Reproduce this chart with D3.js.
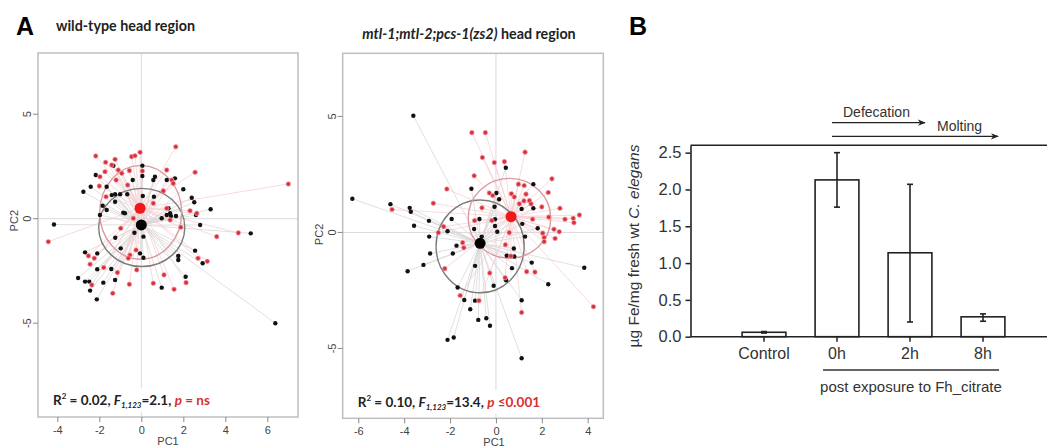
<!DOCTYPE html>
<html>
<head>
<meta charset="utf-8">
<script src="https://cdn.jsdelivr.net/npm/d3@7"></script>
<style>
body { margin: 0; background: #fff; }
svg { display: block; }
</style>
</head>
<body>
<svg width="1047" height="448"></svg>
<script>
// Panel A - PCA scores (PC1, PC2)
const wtRed = [[-2.17,3.0],[-1.70,2.70],[-1.41,2.57],[-1.25,2.84],[-0.46,2.97],[-0.30,3.01],[-0.06,3.18],[1.64,3.44],[2.56,2.22],[7.0,1.66],
  [-1.97,2.01],[-1.73,2.25],[-1.20,1.85],[-1.10,2.33],[-0.93,2.17],[-0.57,2.30],[0.05,2.28],[-0.65,1.61],[-2.0,1.56],[1.21,2.33],
  [1.45,1.85],[1.52,1.69],[1.05,1.33],[-1.68,1.05],[2.32,0.38],[2.64,0.26],[0.57,0.74],[-4.43,-1.10],[-2.52,-1.78],[-2.44,-2.18],
  [-1.14,-2.58],[-2.36,-3.17],[-1.36,-3.57],[-0.57,-3.14],[-0.22,-2.45],[0.57,-3.09],[1.08,-2.69],[1.56,-3.38],[2.13,-3.06],[2.70,-1.89],
  [3.14,-2.04],[3.59,-0.86],[4.62,-0.68],[-0.98,-0.46],[-0.38,0.02],[-0.25,-1.50],[-0.54,-1.74],[1.37,-0.06],[1.88,-0.41],[1.21,0.50],
  [-2.24,-1.89],[-1.79,-2.34],[-0.62,-1.89]];
const wtBlack = [[-1.33,2.54],[-2.17,2.09],[-0.41,1.85],[0.05,2.54],[0.05,2.04],[-2.76,1.29],[-2.41,1.53],[-1.65,1.53],[0.57,1.85],[0.65,2.01],
  [1.21,1.85],[1.60,1.93],[2.0,1.41],[0.60,1.05],[-1.41,1.13],[-1.25,1.17],[-1.01,1.17],[-0.67,1.17],[0.07,1.09],[-1.25,0.81],
  [-1.84,0.62],[2.40,1.0],[2.52,0.79],[3.30,0.45],[1.29,0.50],[1.37,0.26],[-0.86,0.29],[-1.97,0.18],[-4.16,-0.28],[-2.68,-1.61],
  [-2.10,-1.66],[-2.10,-2.42],[-1.43,-2.41],[-3.01,-2.84],[-2.68,-3.01],[-2.48,-3.01],[-2.44,-3.44],[-1.81,-3.06],[-1.25,-2.93],[-2.12,-3.86],
  [0.97,-3.30],[2.11,-2.78],[1.76,-1.78],[1.76,-1.98],[2.56,-1.53],[2.92,-2.13],[2.80,-0.30],[5.21,-0.70],[6.38,-5.0],[0.10,-0.86],
  [-1.24,-0.91],[-0.78,0.26],[-0.33,-0.67],[0.10,-1.87],[-0.06,-1.66],[-0.98,-1.42],[0.97,0.02],[1.21,0.18],[1.41,0.13],[1.65,0.13],
  [2.60,0.18],[-1.65,0.42]];
const mutRed = [[-1.05,4.30],[-0.46,4.30],[1.27,3.46],[-0.59,3.23],[-0.07,3.01],[0.37,3.05],[-0.95,2.44],[2.44,2.31],[-2.14,1.87],[0.98,2.08],
  [1.23,2.02],[-2.73,1.26],[-4.53,0.99],[-0.29,1.70],[-0.14,1.59],[0.67,1.67],[0.80,1.53],[1.31,1.65],[1.22,1.36],[1.46,1.37],
  [1.53,1.23],[2.28,1.72],[2.79,1.04],[-0.61,1.06],[1.02,1.23],[2.0,1.10],[-0.93,0.51],[-0.18,0.51],[1.60,0.57],[2.30,0.66],
  [3.01,0.57],[3.37,0.61],[3.64,0.75],[3.40,0.42],[-2.28,0.25],[-2.51,-0.01],[2.04,-0.03],[2.10,-0.22],[2.53,0.14],[2.76,0.03],
  [0.58,-0.01],[2.58,-0.26],[-1.45,-0.44],[-1.40,-0.66],[0.41,-0.53],[2.10,-0.40],[0.65,-1.02],[-2.23,-1.56],[-0.27,-1.75],[0.40,-1.95],
  [1.34,-1.69],[1.70,-1.71],[-1.56,-2.72],[-0.74,-2.94],[1.12,-3.45],[4.25,-3.20]];
const mutBlack = [[-3.60,5.03],[0.43,2.79],[-1.07,1.88],[1.63,2.08],[-6.26,1.45],[-4.60,1.22],[-3.76,1.06],[-3.71,0.89],[0.02,1.70],[0.14,1.43],
  [1.63,1.04],[1.12,1.01],[-0.06,1.11],[-2.92,0.50],[-3.57,0.29],[-1.93,0.58],[-2.11,0.05],[-0.72,0.58],[-0.04,0.57],[1.15,0.37],
  [1.82,0.18],[-0.95,0.15],[-0.04,0.28],[0.06,0.03],[1.27,-0.18],[-0.62,-0.18],[-2.91,-0.18],[-1.72,-0.57],[0.78,-0.69],[-2.87,-0.91],
  [-1.88,-0.91],[0.47,-1.0],[0.80,-1.04],[-3.16,-1.40],[-3.85,-1.67],[-0.91,-1.44],[1.56,-1.30],[3.85,-1.52],[0.70,-1.54],[0.44,-2.06],
  [2.28,-2.23],[-0.10,-2.30],[-1.67,-2.37],[-1.38,-2.91],[-0.91,-2.94],[1.12,-2.92],[-1.12,-3.31],[-0.77,-3.77],[-0.42,-3.70],[-0.26,-4.02],
  [-1.84,-4.53],[-2.11,-4.63],[1.12,-5.42]];
// group centroids and ellipses [cx, cy, rx, ry]
const wtCentroids = {red: [-0.06, 0.50], black: [0.0, -0.30]};
const wtEllipses = {red: [-0.03, 0.30, 1.95, 2.24], black: [0.02, -0.42, 2.05, 1.87]};
const mutCentroids = {red: [0.66, 0.68], black: [-0.69, -0.47]};
const mutEllipses = {red: [0.59, 0.61, 1.80, 1.72], black: [-0.69, -0.60, 1.92, 2.0]};
const wtXTicks = [-4, -2, 0, 2, 4, 6];
const mutXTicks = [-6, -4, -2, 0, 2, 4];
const pcaYTicks = [-5, 0, 5];

// Panel B - iron content
const bCats = ['Control', '0h', '2h', '8h'];
const bMeans = [0.06, 2.13, 1.14, 0.27];
const bErrLo = [0.05, 1.76, 0.20, 0.21];
const bErrHi = [0.07, 2.50, 2.07, 0.31];
const bTicks = [0, 0.5, 1.0, 1.5, 2.0, 2.5];

const svg = d3.select('svg');
const fontA = 'Lato, "Open Sans", sans-serif';
const fontB = '"Liberation Sans", Arial, sans-serif';

svg.append('text').text('A').attr('x', 16).attr('y', 35)
  .attr('font-family', fontB).attr('font-weight', 'bold').attr('font-size', 25);
svg.append('text').text('B').attr('x', 629).attr('y', 35)
  .attr('font-family', fontB).attr('font-weight', 'bold').attr('font-size', 25);

const panels = [
  {red: wtRed, black: wtBlack, cen: wtCentroids, ell: wtEllipses, xTicks: wtXTicks,
   xDom: [-4.92, 7.46], xRange: [38, 298], yDom: [-9.49, 7.93], yRange: [417, 53],
   titleY: 31, r2: '0.02', f: '2.1', p: 'p = ns', statY: 405, pc1X: 168},
  {red: mutRed, black: mutBlack, cen: mutCentroids, ell: mutEllipses, xTicks: mutXTicks,
   xDom: [-6.68, 4.68], xRange: [342.7, 603.3], yDom: [-8.01, 7.72], yRange: [418.3, 53.3],
   titleY: 39, r2: '0.10', f: '13.4', p: 'p \u22640.001', statY: 407, pc1X: 494}
];

panels.forEach((p, i) => {
  const x = d3.scaleLinear().domain(p.xDom).range(p.xRange);
  const y = d3.scaleLinear().domain(p.yDom).range(p.yRange);
  const g = svg.append('g');
  const x0 = p.xRange[0], x1 = p.xRange[1], yT = p.yRange[1], yB = p.yRange[0];

  // title
  const t = g.append('text').attr('font-family', fontA).attr('font-weight', 'bold')
    .attr('font-size', 14.3).attr('fill', '#222');
  if (i === 0) {
    t.attr('x', 56).attr('y', p.titleY).text('wild-type head region');
  } else {
    t.attr('x', 469).attr('y', p.titleY).attr('text-anchor', 'middle');
    t.append('tspan').attr('font-style', 'italic').text('mtl-1;mtl-2;pcs-1(zs2)');
    t.append('tspan').text(' head region');
  }

  // crosshair through origin
  g.append('line').attr('x1', x0).attr('x2', x1).attr('y1', y(0)).attr('y2', y(0))
    .attr('stroke', '#dadada').attr('stroke-width', 1);
  g.append('line').attr('x1', x(0)).attr('x2', x(0)).attr('y1', yT).attr('y2', yB)
    .attr('stroke', '#dadada').attr('stroke-width', 1);

  // spider lines to group centroid
  [['black', '#d6d6d6'], ['red', '#f5cfd2']].forEach(([grp, col]) => {
    const c = p.cen[grp];
    g.append('g').selectAll('line').data(p[grp]).join('line')
      .attr('x1', d => x(d[0])).attr('y1', d => y(d[1]))
      .attr('x2', x(c[0])).attr('y2', y(c[1]))
      .attr('stroke', col).attr('stroke-width', 0.75);
  });

  // ellipses
  [['black', '#7c7c7c'], ['red', '#d99aa1']].forEach(([grp, col]) => {
    const e = p.ell[grp];
    g.append('ellipse').attr('cx', x(e[0])).attr('cy', y(e[1]))
      .attr('rx', x(e[0] + e[2]) - x(e[0])).attr('ry', y(e[1]) - y(e[1] + e[3]))
      .attr('fill', 'none').attr('stroke', col).attr('stroke-width', 1.4);
  });

  // points
  g.append('g').selectAll('circle').data(p.black).join('circle')
    .attr('cx', d => x(d[0])).attr('cy', d => y(d[1])).attr('r', 2.2).attr('fill', '#111');
  g.append('g').selectAll('circle').data(p.red).join('circle')
    .attr('cx', d => x(d[0])).attr('cy', d => y(d[1])).attr('r', 2.3)
    .attr('fill', '#d8303c').attr('stroke', '#f2a6ad').attr('stroke-width', 0.7);

  // centroids
  g.append('circle').attr('cx', x(p.cen.red[0])).attr('cy', y(p.cen.red[1])).attr('r', 5.5).attr('fill', '#f01818');
  g.append('circle').attr('cx', x(p.cen.black[0])).attr('cy', y(p.cen.black[1])).attr('r', 5.5).attr('fill', '#000');

  // statistics legend with white background
  g.append('rect').attr('x', x0 + 8).attr('y', p.statY - 17).attr('width', x1 - x0 - 16).attr('height', 24)
    .attr('fill', '#fff');
  const s = g.append('text').attr('x', x0 + 15).attr('y', p.statY)
    .attr('font-family', fontA).attr('font-weight', 'bold').attr('font-size', 13.5).attr('fill', '#222');
  s.append('tspan').text('R');
  s.append('tspan').attr('font-size', 8).attr('dy', -6).text('2');
  s.append('tspan').attr('dy', 6).text(' = ' + p.r2 + ',  ');
  s.append('tspan').attr('font-style', 'italic').text('F');
  s.append('tspan').attr('font-size', 8).attr('dy', 3).attr('font-style', 'italic').text('1,123');
  s.append('tspan').attr('dy', -3).text('=' + p.f + ',  ');
  s.append('tspan').attr('font-style', 'italic').attr('fill', '#d9302f').text(p.p.split(' ')[0]);
  s.append('tspan').attr('fill', '#d9302f').text(' ' + p.p.split(' ').slice(1).join(' '));

  // frame
  g.append('rect').attr('x', x0).attr('y', yT).attr('width', x1 - x0).attr('height', yB - yT)
    .attr('fill', 'none').attr('stroke', '#bfbfbf').attr('stroke-width', 1.5);

  // axes, R style
  const xAx = g.append('g').attr('transform', `translate(0,${yB})`)
    .call(d3.axisBottom(x).tickValues(p.xTicks).tickSize(5).tickPadding(4).tickFormat(d3.format('d')));
  const yAx = g.append('g').attr('transform', `translate(${x0},0)`)
    .call(d3.axisLeft(y).tickValues(pcaYTicks).tickSize(5).tickPadding(5).tickFormat(d3.format('d')));
  [xAx, yAx].forEach(a => {
    a.select('.domain').remove();
    a.selectAll('line').attr('stroke', '#888');
    a.selectAll('text').attr('fill', '#444').attr('font-family', fontB).attr('font-size', 11)
      .text(d => String(d).replace('\u2212', '-'));
  });
  yAx.selectAll('.tick').attr('transform', null);
  yAx.selectAll('.tick line').attr('y1', d => y(d)).attr('y2', d => y(d));
  yAx.selectAll('.tick text').attr('text-anchor', 'middle').attr('dy', 0)
    .attr('transform', d => `rotate(-90,-11,${y(d)})`).attr('x', -11).attr('y', d => y(d) + 4);

  g.append('text').text('PC1').attr('x', p.pc1X).attr('y', yB + 28)
    .attr('text-anchor', 'middle').attr('font-family', fontB).attr('font-size', 11).attr('fill', '#444');
  g.append('text').text('PC2').attr('transform', `translate(${x0 - 20},${y(0) + 2}) rotate(-90)`)
    .attr('text-anchor', 'middle').attr('font-family', fontB).attr('font-size', 11).attr('fill', '#444');
});

// ---- Panel B ----
const yB = d3.scaleLinear().domain([0, 2.6]).range([336.7, 145.3]);
const xB = d3.scaleBand().domain(bCats).range([727.5, 1019.5]).paddingInner(0.4).paddingOuter(0.2);
const gB = svg.append('g');
const axX0 = 690.5, axX1 = 1047;

gB.append('line').attr('x1', axX0).attr('x2', axX1).attr('y1', yB(2.6)).attr('y2', yB(2.6))
  .attr('stroke', '#222').attr('stroke-width', 1.6);

gB.selectAll('rect.bar').data(bCats).join('rect').attr('class', 'bar')
  .attr('x', d => xB(d)).attr('width', xB.bandwidth())
  .attr('y', (d, i) => yB(bMeans[i])).attr('height', (d, i) => yB(0) - yB(bMeans[i]))
  .attr('fill', '#fff').attr('stroke', '#222').attr('stroke-width', 1.6);

const cx = d => xB(d) + xB.bandwidth() / 2;
const eb = gB.selectAll('g.err').data(bCats).join('g').attr('class', 'err')
  .attr('stroke', '#222').attr('stroke-width', 1.6);
eb.append('line').attr('x1', cx).attr('x2', cx)
  .attr('y1', (d, i) => yB(bErrLo[i])).attr('y2', (d, i) => yB(bErrHi[i]));
eb.append('line').attr('x1', d => cx(d) - 3).attr('x2', d => cx(d) + 3)
  .attr('y1', (d, i) => yB(bErrLo[i])).attr('y2', (d, i) => yB(bErrLo[i]));
eb.append('line').attr('x1', d => cx(d) - 3).attr('x2', d => cx(d) + 3)
  .attr('y1', (d, i) => yB(bErrHi[i])).attr('y2', (d, i) => yB(bErrHi[i]));

const yAxB = gB.append('g').attr('transform', `translate(${axX0},0)`)
  .call(d3.axisLeft(yB).tickValues(bTicks).tickSize(5).tickSizeOuter(0).tickPadding(4).tickFormat(d3.format('.1f')));
yAxB.select('.domain').attr('stroke', '#222').attr('stroke-width', 1.6);
yAxB.selectAll('line').attr('stroke', '#222').attr('stroke-width', 1.5);
yAxB.selectAll('text').attr('font-family', fontB).attr('font-size', 16.5).attr('fill', '#333');

gB.append('line').attr('x1', axX0).attr('x2', axX1).attr('y1', yB(0)).attr('y2', yB(0))
  .attr('stroke', '#222').attr('stroke-width', 1.6);
const xAxB = gB.append('g').attr('transform', `translate(0,${yB(0)})`)
  .call(d3.axisBottom(xB).tickSize(5).tickSizeOuter(0).tickPadding(6));
xAxB.select('.domain').remove();
xAxB.selectAll('line').attr('stroke', '#222').attr('stroke-width', 1.5);
xAxB.selectAll('text').attr('font-family', fontB).attr('font-size', 16).attr('fill', '#333');

// y label
const yl = gB.append('text').attr('transform', 'translate(639,246) rotate(-90)')
  .attr('text-anchor', 'middle').attr('font-family', fontB).attr('font-size', 15.5).attr('fill', '#333');
yl.append('tspan').text('\u00b5g Fe/mg fresh wt ');
yl.append('tspan').attr('font-style', 'italic').text('C. elegans');

// group bracket under the treated bars
gB.append('line').attr('x1', cx('0h') - 14).attr('x2', cx('8h') + 16).attr('y1', 370).attr('y2', 370)
  .attr('stroke', '#333').attr('stroke-width', 1.3);
gB.append('text').text('post exposure to Fh_citrate').attr('x', (cx('0h') + cx('8h')) / 2 + 1).attr('y', 392)
  .attr('text-anchor', 'middle').attr('font-family', fontB).attr('font-size', 15).attr('fill', '#333');

// process arrows
const arrows = [
  {label: 'Defecation', from: '0h', to: '2h', y: 122.7, tx: 843, ty: 117},
  {label: 'Molting', from: '0h', to: '8h', y: 136.3, tx: 937, ty: 131}
];
svg.append('defs').append('marker').attr('id', 'ah').attr('viewBox', '0 0 10 10')
  .attr('refX', 9).attr('refY', 5).attr('markerWidth', 8).attr('markerHeight', 8)
  .attr('markerUnits', 'userSpaceOnUse').attr('orient', 'auto')
  .append('path').attr('d', 'M0,1 L10,5 L0,9 L3,5 Z').attr('fill', '#222');
arrows.forEach(a => {
  gB.append('line').attr('x1', cx(a.from) - 5).attr('x2', cx(a.to) + 15).attr('y1', a.y).attr('y2', a.y)
    .attr('stroke', '#222').attr('stroke-width', 1.3).attr('marker-end', 'url(#ah)');
  gB.append('text').text(a.label).attr('x', a.tx).attr('y', a.ty)
    .attr('font-family', fontB).attr('font-size', 14).attr('fill', '#333');
});
</script>
</body>
</html>
